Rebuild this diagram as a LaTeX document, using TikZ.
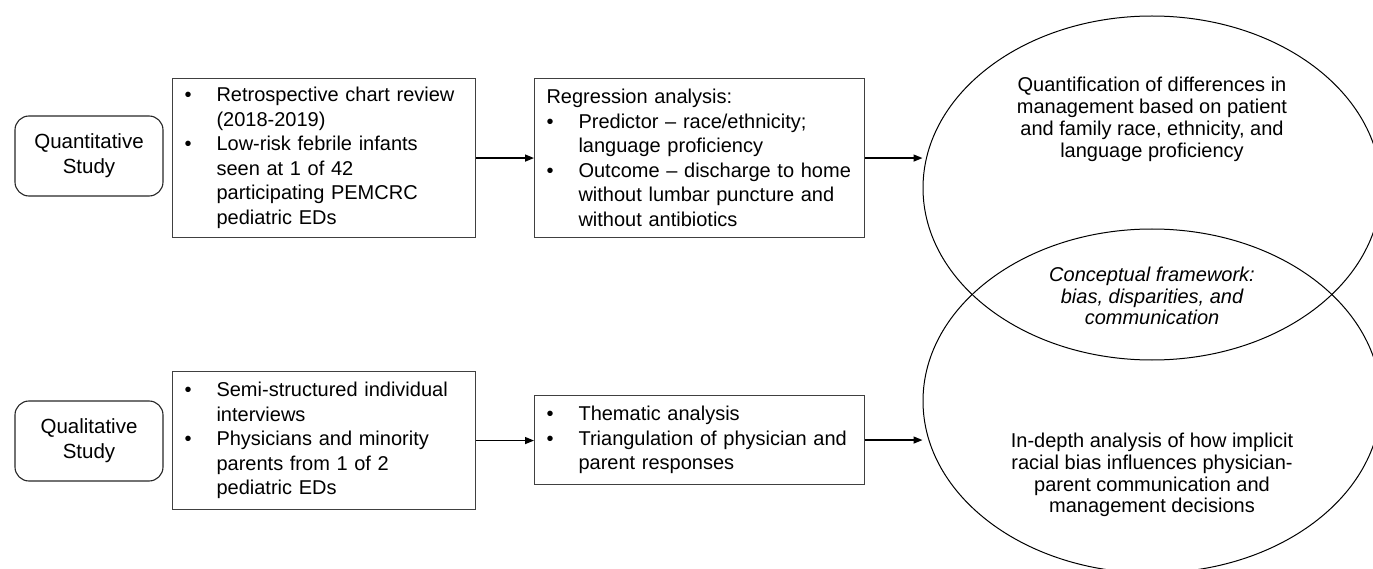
\documentclass[tikz,border=0pt]{standalone}
\usepackage{fontspec}
\setmainfont{Liberation Sans}
\usetikzlibrary{arrows.meta,shapes.geometric}
\newcommand{\bul}{\makebox[32pt][l]{•}}
\newcommand{\ind}{\hspace*{32pt}}
\begin{document}
\begin{tikzpicture}[x=1pt,y=-1pt,
  txt/.style={font=\fontsize{20}{24.5}\selectfont},
  sqbox/.style={draw=black!75, line width=1.1pt, rectangle, inner xsep=12pt, inner ysep=0pt, align=left, anchor=north west, txt},
  rbox/.style={draw=black!85, line width=1.1pt, rounded corners=14pt, minimum width=148pt, minimum height=80pt, align=center, font=\fontsize{20.5}{25}\selectfont},
  oval/.style={draw=black, line width=1pt, ellipse, minimum width=458pt, minimum height=344pt, inner sep=0pt},
  otxt/.style={align=center, font=\fontsize{20}{21.8}\selectfont, inner sep=0pt},
  arr/.style={-{Triangle[length=9pt,width=7pt]}, line width=1.4pt, black}
]
\useasboundingbox (0,0) rectangle (1373,569);

% left rounded boxes
\node[rbox] (quan) at (89,156) {Quantitative\\Study};
\node[rbox] (qual) at (89,441) {Qualitative\\Study};

% rectangular boxes
\node[sqbox, text width=279pt, minimum width=303pt, minimum height=159pt] (b1) at (172,78) {%
\bul Retrospective chart review\\
\ind (2018-2019)\\
\bul Low-risk febrile infants\\
\ind seen at 1 of 42\\
\ind participating PEMCRC\\
\ind pediatric EDs};

\node[sqbox, text width=306pt, minimum width=330pt, minimum height=159pt] (b2) at (534,78) {%
Regression analysis:\\
\bul Predictor – race/ethnicity;\\
\ind language proficiency\\
\bul Outcome – discharge to home\\
\ind without lumbar puncture and\\
\ind without antibiotics};

\node[sqbox, text width=279pt, minimum width=303pt, minimum height=138pt] (b3) at (172,371) {%
\bul Semi-structured individual\\
\ind interviews\\
\bul Physicians and minority\\
\ind parents from 1 of 2\\
\ind pediatric EDs};

\node[sqbox, text width=306pt, minimum width=330pt, minimum height=89pt] (b4) at (534,395) {%
\bul Thematic analysis\\
\bul Triangulation of physician and\\
\ind parent responses};

% ellipses
\node[oval] (e1) at (1152,188) {};
\node[oval] (e2) at (1152,401) {};

\node[otxt] (t1) at (1152,119.5) {Quantification of differences in\\management based on patient\\and family race, ethnicity, and\\language proficiency};
\node[otxt, font=\fontsize{20}{21.8}\selectfont\itshape] (t2) at (1152,296) {Conceptual framework:\\bias, disparities, and\\communication};
\node[otxt] (t3) at (1152,475) {In-depth analysis of how implicit\\racial bias influences physician-\\parent communication and\\management decisions};

% arrows
\draw[arr] (b1.east) -- (b2.west);
\draw[arr] (b2.east) -- (b2.east -| e1.west);
\draw[arr] (b3.east) -- (b3.east -| b4.west);
\draw[arr] (b4.east) -- (b4.east -| e2.west);
\end{tikzpicture}
\end{document}
